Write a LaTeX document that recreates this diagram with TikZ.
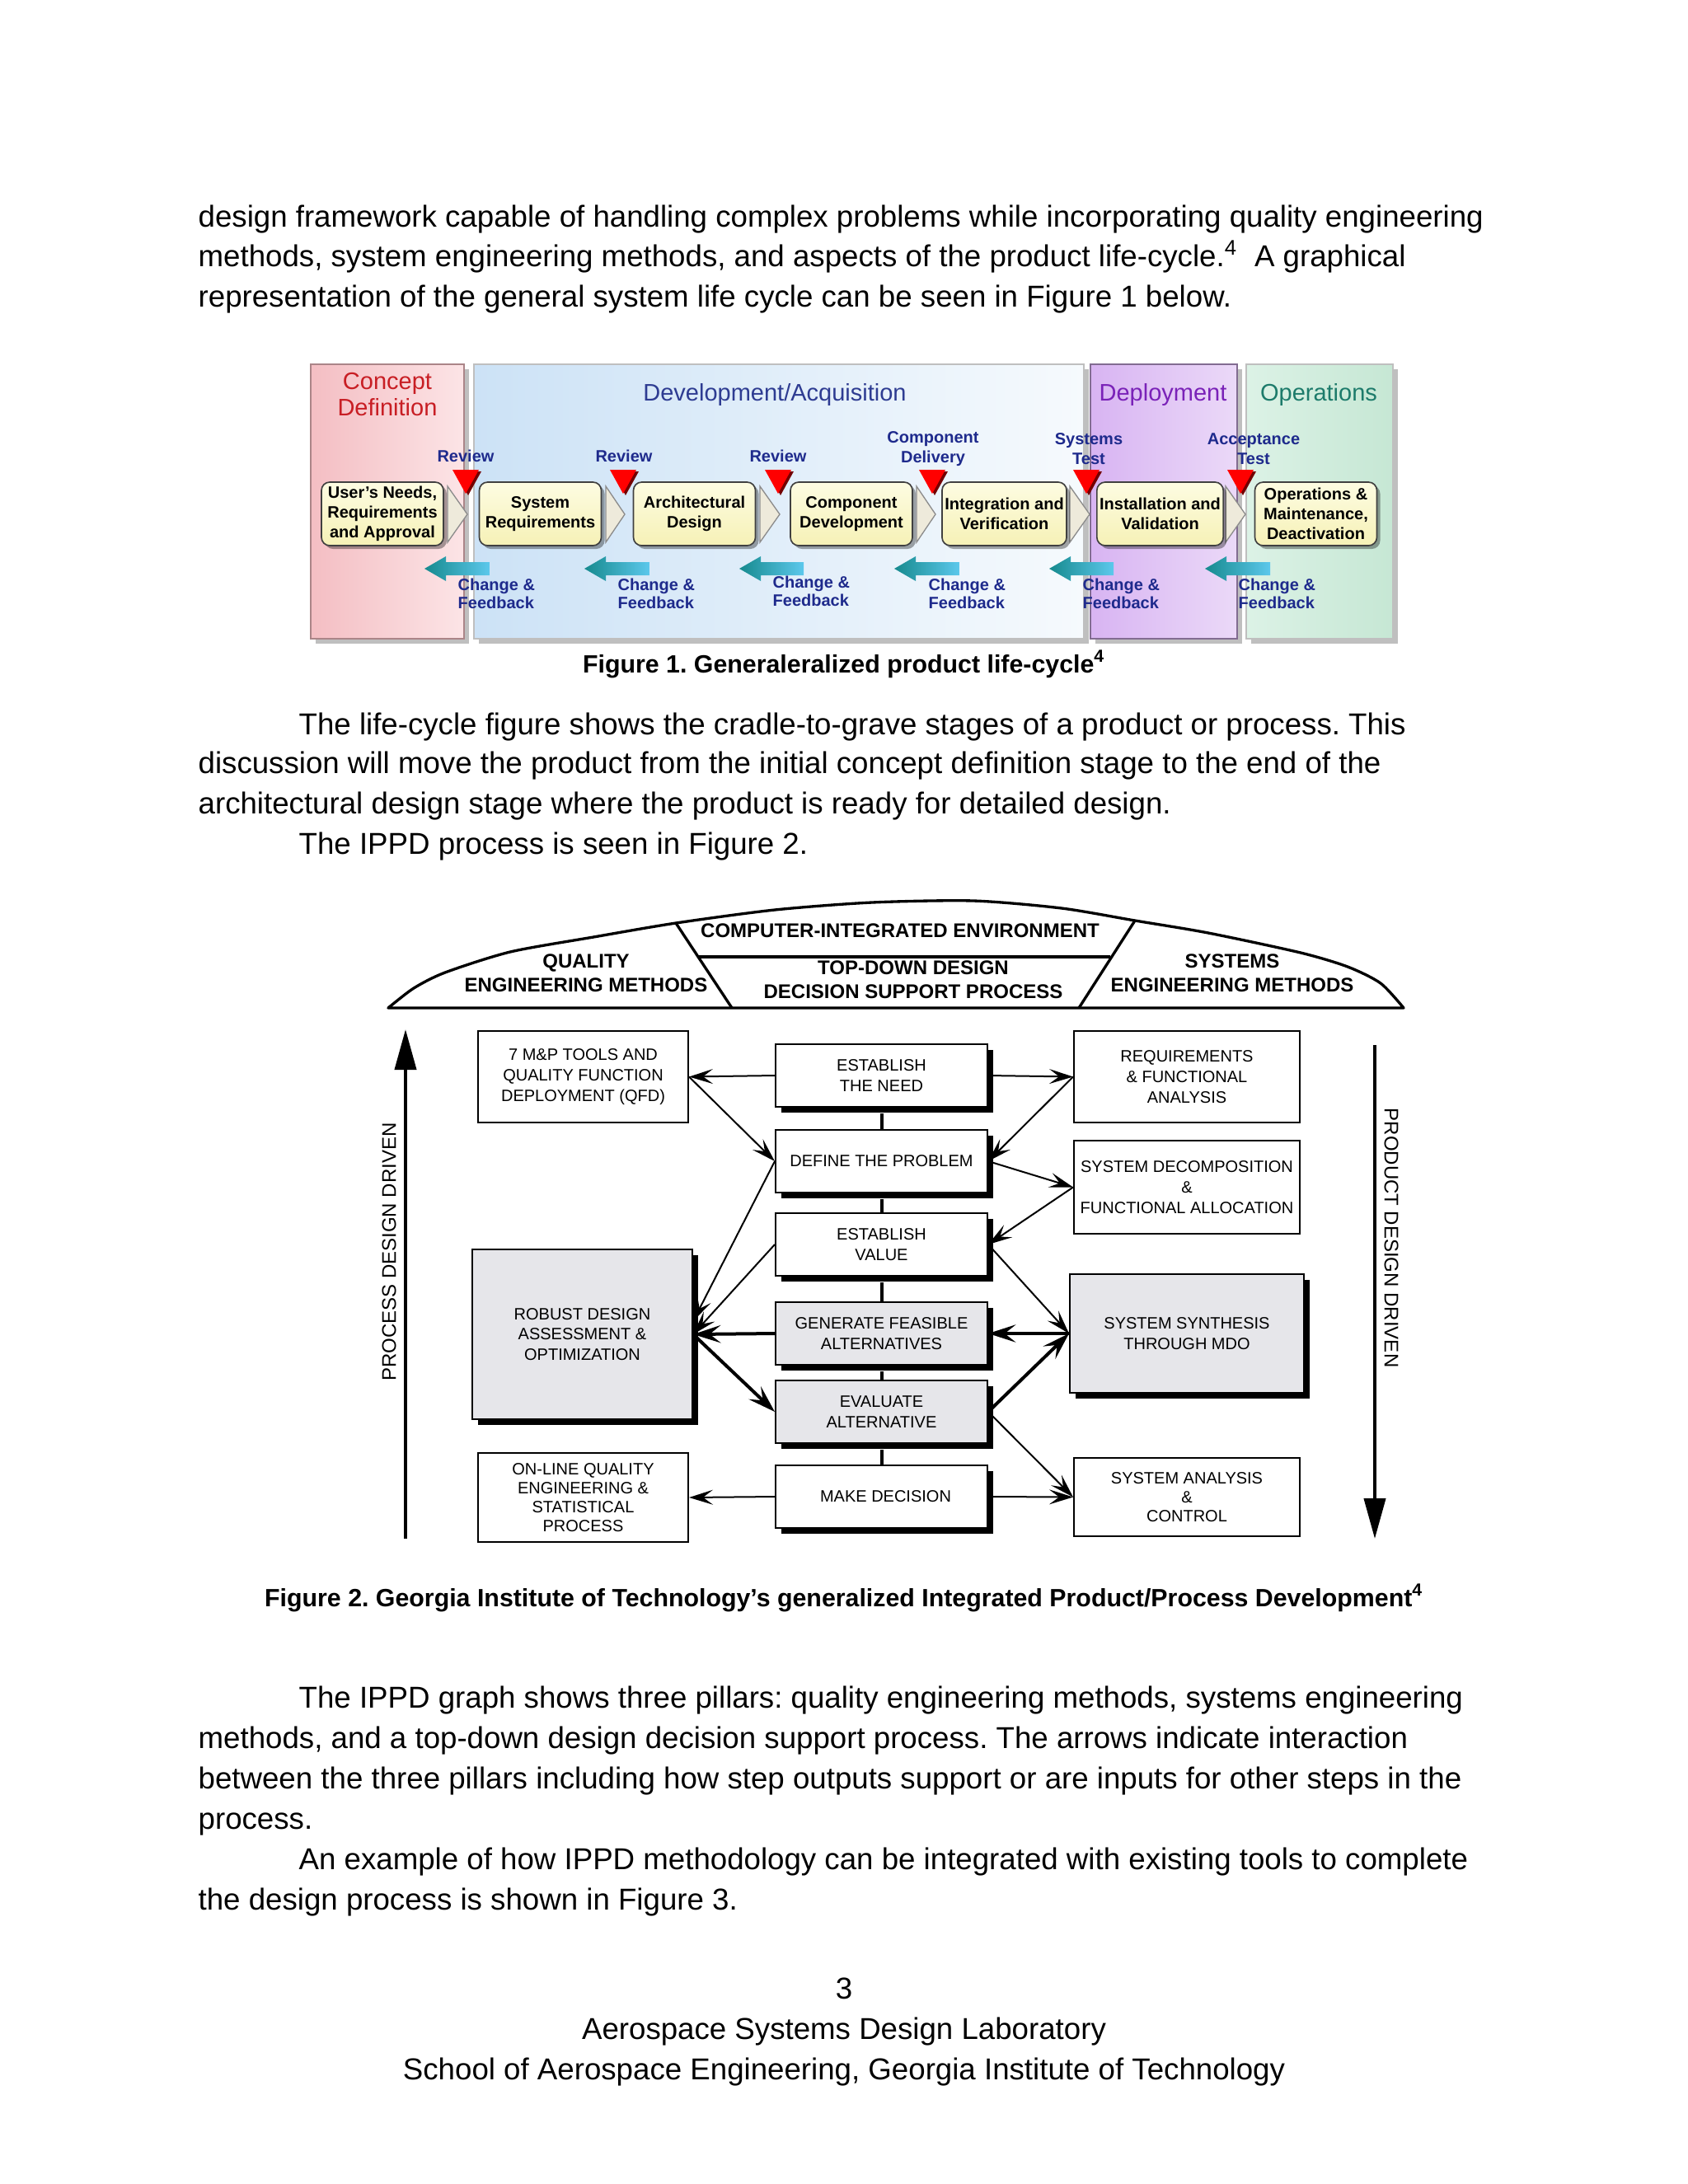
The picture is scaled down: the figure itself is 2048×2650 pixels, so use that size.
\documentclass[tikz,border=0pt]{standalone}
\usepackage{fontspec}
\setmainfont{Liberation Sans}
\usetikzlibrary{arrows.meta,shadows,calc}
\definecolor{navy}{HTML}{1E2A8C}
\definecolor{cdred}{HTML}{C81E24}
\definecolor{devblue}{HTML}{2E3C92}
\definecolor{deppurp}{HTML}{7A22B8}
\definecolor{opsgreen}{HTML}{1D7B6B}
\definecolor{pinkL}{HTML}{F4BEC3}
\definecolor{pinkR}{HTML}{FCE4E6}
\definecolor{blueL}{HTML}{CCE2F6}
\definecolor{blueR}{HTML}{F6FAFD}
\definecolor{purpL}{HTML}{D8B4F2}
\definecolor{purpR}{HTML}{EBD9F8}
\definecolor{greenL}{HTML}{DCF2E6}
\definecolor{greenR}{HTML}{C6E7D4}
\definecolor{boxT}{HTML}{FDFCE2}
\definecolor{boxB}{HTML}{F6F1B6}
\definecolor{chevfill}{HTML}{EEEADB}
\definecolor{fbteal}{HTML}{168A8E}
\definecolor{fbcyan}{HTML}{5CC8EC}
\definecolor{graybox}{HTML}{E6E6EA}
\frenchspacing
\begin{document}
\begin{tikzpicture}[x=0.3pt,y=-0.3pt,
  body/.style={font=\fontsize{11}{14.7}\selectfont, anchor=base west, inner sep=0pt},
  foot/.style={font=\fontsize{11}{14.7}\selectfont, anchor=base, inner sep=0pt},
  capt/.style={font=\bfseries\fontsize{9.1}{11}\selectfont, anchor=base, inner sep=0pt},
  ptitle/.style={font=\fontsize{8.7}{9.6}\selectfont, align=center, inner sep=0pt},
  lab/.style={font=\bfseries\fontsize{6}{7.2}\selectfont, text=navy, align=center, inner sep=0pt},
  fblab/.style={font=\bfseries\fontsize{6}{6.6}\selectfont, text=navy, align=left, anchor=west, inner sep=0pt},
  lbox/.style={rounded corners=3pt, draw=black!75, line width=0.5pt, top color=boxT, bottom color=boxB,
     minimum width=44.4pt, minimum height=23.1pt, align=center, inner sep=1pt,
     font=\bfseries\fontsize{6}{7.2}\selectfont,
     drop shadow={shadow xshift=1.2pt, shadow yshift=-1.2pt, fill=black, opacity=0.35}},
  panelsh/.style={fill=black!25},
  fbox/.style={draw, line width=0.6pt, fill=white, align=center, inner sep=1pt,
     font=\fontsize{6}{7.4}\selectfont},
  shbox/.style={fbox, drop shadow={shadow xshift=2.1pt, shadow yshift=-2.1pt, fill=black, opacity=1}},
  thinarr/.style={line width=0.6pt, -{Stealth[length=8.7pt,width=5.4pt,inset=3.6pt]}},
  thickarr/.style={line width=1.2pt, -{Stealth[length=10pt,width=6.4pt,inset=4pt]}},
  vlink/.style={line width=1.2pt},
  bigarr/.style={line width=1.2pt, -{Triangle[length=14.7pt,width=7.8pt]}},
  hdr/.style={font=\bfseries\fontsize{7.2}{8.7}\selectfont, align=center, inner sep=0pt},
  side/.style={font=\fontsize{7.2}{8}\selectfont, inner sep=0pt}
]
\fill[white] (0,0) rectangle (2048,2650);
\useasboundingbox (0,0) rectangle (2048,2650);

% ---------------- body text, paragraph 1
\node[body] (p1a) at (240,275) {design framework capable of handling complex problems while incorporating quality engineering};
\node[body] (p1b) at (240,323) {methods, system engineering methods, and aspects of the product life-cycle.\textsuperscript{4}\hspace{0.55em}A graphical};
\node[body] (p1c) at (240,372) {representation of the general system life cycle can be seen in Figure 1 below.};

% ---------------- Figure 1
\fill[panelsh] (383,448) rectangle (569,781);
\shade[left color=pinkL, right color=pinkR, draw=pinkL!70!black, line width=0.5pt] (377,442) rectangle (563,775);
\fill[panelsh] (581,448) rectangle (1321,781);
\shade[left color=blueL, right color=blueR, draw=black!25, line width=0.5pt] (575,442) rectangle (1315,775);
\fill[panelsh] (1329,448) rectangle (1507,781);
\shade[left color=purpL, right color=purpR, draw=purpL!60!black, line width=0.5pt] (1323,442) rectangle (1501,775);
\fill[panelsh] (1518,448) rectangle (1696,781);
\shade[left color=greenL, right color=greenR, draw=black!25, line width=0.5pt] (1512,442) rectangle (1690,775);

\node[ptitle, text=cdred] (tcon) at (470,479) {Concept\\Definition};
\node[ptitle, text=devblue] (tdev) at (940,479) {Development/Acquisition};
\node[ptitle, text=deppurp] (tdep) at (1411,479) {Deployment};
\node[ptitle, text=opsgreen] (tops) at (1600,479) {Operations};

\foreach \a/\b in {543/567, 735/758, 922/946, 1112/1135, 1298/1322, 1487/1511}
  \filldraw[fill=chevfill, draw=black!45, line width=0.4pt] (\a,590) -- (\b,624) -- (\a,658) -- cycle;

\node[lbox] (b1) at (464,623.5) {User’s Needs,\\Requirements\\and Approval};
\node[lbox] (b2) at (655.5,623.5) {System\\Requirements};
\node[lbox] (b3) at (842.5,623.5) {Architectural\\Design};
\node[lbox] (b4) at (1033,623.5) {Component\\Development};
\node[lbox] (b5) at (1218.5,623.5) {Integration and\\Verification};
\node[lbox] (b6) at (1407.5,623.5) {Installation and\\Validation};
\node[lbox] (b7) at (1596.5,623.5) {Operations \&\\Maintenance,\\Deactivation};

\foreach \x in {565,756,944,1131,1318,1505} {
  \fill[black!55!red] (\x-13,572) -- (\x+19,572) -- (\x+3,601) -- cycle;
  \fill[red] (\x-16,570) -- (\x+16,570) -- (\x,599) -- cycle;
}
\node[lab] (r1) at (565,553) {Review};
\node[lab] (r2) at (757,553) {Review};
\node[lab] (r3) at (944,553) {Review};
\node[lab] (r4) at (1132,545) {Component\\Delivery};
\node[lab] (r5) at (1321,545) {Systems\\Test};
\node[lab] (r6) at (1521,545) {Acceptance\\Test};

\foreach \a/\b in {515/594, 709/788, 897/975, 1085/1164, 1273/1351, 1462/1541}
  \shade[left color=fbteal, right color=fbcyan] (\a,690) -- (\a+26,675) -- (\a+26,682) -- (\b,682) -- (\b,698) -- (\a+26,698) -- (\a+26,705) -- cycle;
\node[fblab] (fb1) at (555,720) {Change \&\\Feedback};
\node[fblab] (fb2) at (749,720) {Change \&\\Feedback};
\node[fblab] (fb3) at (937,717) {Change \&\\Feedback};
\node[fblab] (fb4) at (1126,720) {Change \&\\Feedback};
\node[fblab] (fb5) at (1313,720) {Change \&\\Feedback};
\node[fblab] (fb6) at (1502,720) {Change \&\\Feedback};

\node[capt] (cap1) at (1024,816) {Figure 1. Generaleralized product life-cycle\textsuperscript{4}};

% ---------------- paragraph 2
\node[body] (p2a) at (362,891) {The life-cycle figure shows the cradle-to-grave stages of a product or process. This};
\node[body] (p2b) at (240,938) {discussion will move the product from the initial concept definition stage to the end of the};
\node[body] (p2c) at (240,987) {architectural design stage where the product is ready for detailed design.};
\node[body] (p2d) at (362,1036) {The IPPD process is seen in Figure 2.};

% ---------------- Figure 2 header dome
\draw[line width=1pt, line join=round] plot[smooth, tension=0.45] coordinates {(471,1223) (502,1199) (540,1180) (619,1155) (720,1137) (820,1120) (940,1104) (1058,1095) (1181,1093) (1288,1102) (1377,1117) (1466,1132) (1578,1156) (1635,1173) (1675,1193) (1703,1223)} -- cycle;
\draw[line width=1pt] (820,1120) -- (888,1223);
\draw[line width=1pt] (1377,1117) -- (1309,1223);
\draw[line width=1pt] (848,1161) -- (1347,1161);
\node[hdr] (hcie) at (1092,1129) {COMPUTER-INTEGRATED ENVIRONMENT};
\node[hdr] (htd) at (1108,1188.5) {TOP-DOWN DESIGN\\DECISION SUPPORT PROCESS};
\node[hdr] (hq) at (711,1180.5) {QUALITY\\ENGINEERING METHODS};
\node[hdr] (hs) at (1495,1180.5) {SYSTEMS\\ENGINEERING METHODS};

\coordinate (pl0) at (492,1867);
\coordinate (pl1) at (492,1249);
\draw[bigarr] (pl0) -- (pl1);
\node[side, rotate=90] (pdd) at (472,1519) {PROCESS DESIGN DRIVEN};
\coordinate (pr0) at (1668,1268);
\coordinate (pr1) at (1668,1867);
\draw[bigarr] (pr0) -- (pr1);
\node[side, rotate=-90] (prd) at (1688,1502) {PRODUCT DESIGN DRIVEN};

\node[fbox, minimum width=76.5pt, minimum height=33.3pt] (mp) at (707.5,1306.5) {7 M\&P TOOLS AND\\QUALITY FUNCTION\\DEPLOYMENT (QFD)};
\node[fbox, minimum width=82.2pt, minimum height=33.3pt] (req) at (1440,1306.5) {REQUIREMENTS\\\& FUNCTIONAL\\ANALYSIS};
\node[fbox, minimum width=82.2pt, minimum height=33.9pt] (dec) at (1440,1440.5) {SYSTEM DECOMPOSITION\\\&\\FUNCTIONAL ALLOCATION};
\node[shbox, fill=graybox, minimum width=80.1pt, minimum height=61.8pt] (rob) at (706.5,1619) {ROBUST DESIGN\\ASSESSMENT \&\\OPTIMIZATION};
\node[shbox, fill=graybox, minimum width=85.2pt, minimum height=43.2pt] (syn) at (1440,1618) {SYSTEM SYNTHESIS\\THROUGH MDO};
\node[fbox, minimum width=76.5pt, minimum height=32.4pt, font=\fontsize{6}{6.9}\selectfont] (onl) at (707.5,1817) {ON-LINE QUALITY\\ENGINEERING \&\\STATISTICAL\\PROCESS};
\node[fbox, minimum width=82.2pt, minimum height=28.5pt, font=\fontsize{6}{7}\selectfont] (ana) at (1440,1816.5) {SYSTEM ANALYSIS\\\&\\CONTROL};

\node[shbox, minimum width=77.1pt, minimum height=22.8pt] (need) at (1069.5,1305) {ESTABLISH\\THE NEED};
\node[shbox, minimum width=77.1pt, minimum height=22.8pt] (def) at (1069.5,1409) {DEFINE THE PROBLEM};
\node[shbox, minimum width=77.1pt, minimum height=22.8pt] (val) at (1069.5,1510) {ESTABLISH\\VALUE};
\node[shbox, fill=graybox, minimum width=77.1pt, minimum height=22.8pt] (gen) at (1069.5,1618) {GENERATE FEASIBLE\\ALTERNATIVES};
\node[shbox, fill=graybox, minimum width=77.1pt, minimum height=22.8pt] (eva) at (1069.5,1713) {EVALUATE\\ALTERNATIVE};
\node[shbox, minimum width=77.1pt, minimum height=22.8pt] (mak) at (1069.5,1816) {\hspace{3pt}MAKE DECISION};

\draw[vlink] ([yshift=-2.1pt]need.south) -- (def.north);
\draw[vlink] ([yshift=-2.1pt]def.south) -- (val.north);
\draw[vlink] ([yshift=-2.1pt]val.south) -- (gen.north);
\draw[vlink] ([yshift=-2.1pt]gen.south) -- (eva.north);
\draw[vlink] ([yshift=-2.1pt]eva.south) -- (mak.north);

\draw[thinarr] (need.west) -- (mp.east);
\draw[thinarr] (need.east) -- (req.west);
\draw[thinarr] (mp.east) -- (def.west);
\draw[thinarr] (req.west) -- (def.east);
\draw[thinarr] (def.east) -- (dec.west);
\draw[thinarr] (dec.west) -- (val.east);
\draw[thinarr] (val.east) -- (syn.west);
\draw[thickarr] (syn.west) -- (gen.east);
\draw[thickarr] (eva.east) -- (syn.west);
\draw[thinarr] (eva.east) -- (ana.west);
\draw[thinarr] (mak.east) -- (ana.west);
\draw[thinarr] (mak.west) -- (onl.east);
\draw[thickarr] (gen.west) -- (rob.east);
\draw[thickarr] (rob.east) -- (eva.west);
\draw[thinarr] (def.west) -- ([yshift=4.8pt]rob.east);
\draw[thinarr] (val.west) -- (rob.east);

\node[capt] (cap2) at (1024,1949) {Figure 2. Georgia Institute of Technology’s generalized Integrated Product/Process Development\textsuperscript{4}};

% ---------------- paragraphs 3 and 4
\node[body] (p3a) at (362,2072) {The IPPD graph shows three pillars: quality engineering methods, systems engineering};
\node[body] (p3b) at (240,2121) {methods, and a top-down design decision support process. The arrows indicate interaction};
\node[body] (p3c) at (240,2170) {between the three pillars including how step outputs support or are inputs for other steps in the};
\node[body] (p3d) at (240,2219) {process.};
\node[body] (p4a) at (362,2268) {An example of how IPPD methodology can be integrated with existing tools to complete};
\node[body] (p4b) at (240,2317) {the design process is shown in Figure 3.};

% ---------------- footer
\node[foot] (f1) at (1024,2425) {3};
\node[foot] (f2) at (1024,2474) {Aerospace Systems Design Laboratory};
\node[foot] (f3) at (1024,2523) {School of Aerospace Engineering, Georgia Institute of Technology};
\end{tikzpicture}
\end{document}
